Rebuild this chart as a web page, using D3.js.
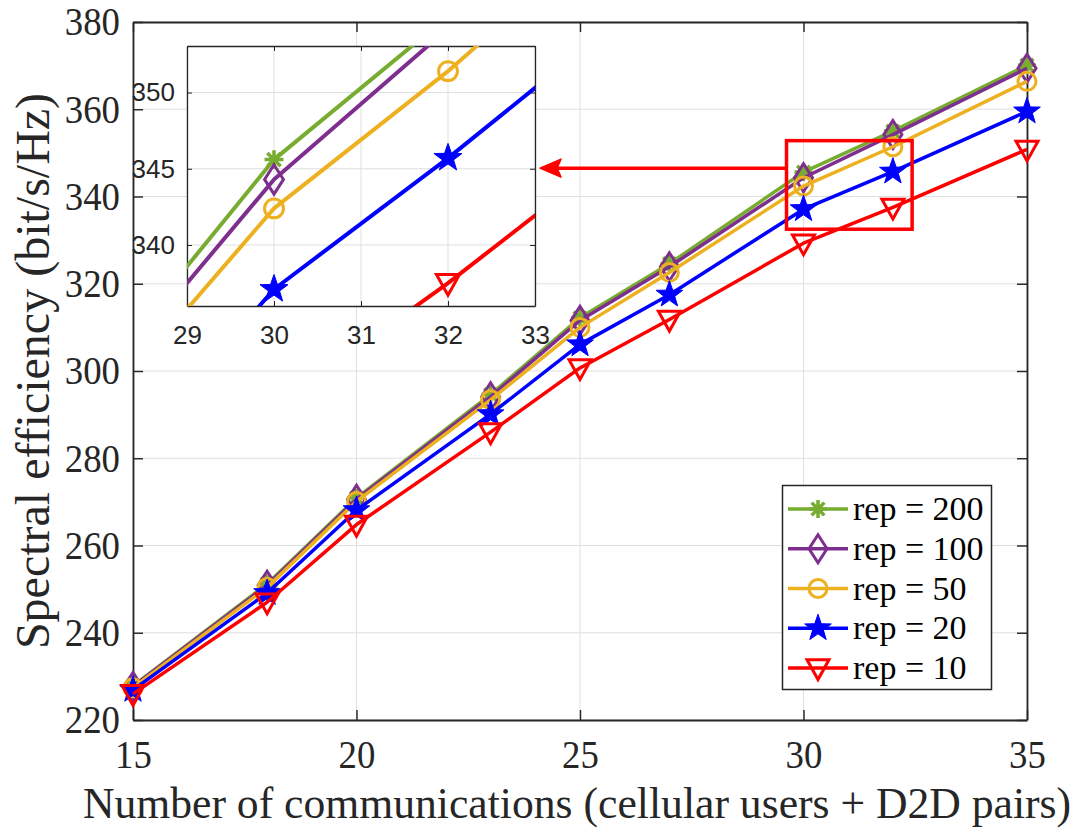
<!DOCTYPE html>
<html>
<head>
<meta charset="utf-8">
<script src="https://cdn.jsdelivr.net/npm/d3@7"></script>
<style>
	body { margin: 0; background: #fff; }
	#content { width: 1078px; height: 829px; }
</style>
</head>
<body>
<div id="content"></div>
<script>
var users = [15, 18, 20, 23, 25, 27, 30, 32, 35];
var rep200 = [227.8, 251.2, 270.9, 294.6, 312.2, 324.6, 345.6, 355.0, 370.1];
var rep100 = [227.7, 250.9, 270.6, 294.1, 311.6, 323.9, 344.3, 354.2, 369.4];
var rep50 = [227.4, 250.4, 270.1, 293.4, 310.0, 322.6, 342.4, 351.4, 366.4];
var rep20 = [226.9, 249.1, 268.1, 290.1, 306.1, 317.5, 337.1, 345.7, 359.5];
var rep10 = [226.0, 247.0, 264.8, 286.0, 300.7, 311.8, 329.3, 337.5, 350.8];
var seriesNames = ["rep = 200", "rep = 100", "rep = 50", "rep = 20", "rep = 10"];

var xTicks = [15, 20, 25, 30, 35];
var yTicks = [220, 240, 260, 280, 300, 320, 340, 360, 380];
var insetXTicks = [29, 30, 31, 32, 33];
var insetYTicks = [340, 345, 350];
var insetXRange = [29, 33];
var insetYRange = [336, 353.05];
// zoom box drawn on the main axes, in data units
var zoomBoxX = [29.62, 32.43];
var zoomBoxY = [332.5, 352.8];
var arrowY = 346.5;

var colors = ["#77AC30", "#7E2F8E", "#EDB120", "#0000FF", "#FF0000"];
var markers = ["asterisk", "diamond", "circle", "star", "triangle"];

var serif = "'Liberation Serif', 'Times New Roman', serif";

function main() {
	var svg = d3.select("#content").append("svg")
		.attr("width", 1078)
		.attr("height", 829);
	svg.append("rect").attr("width", 1078).attr("height", 829).attr("fill", "white");

	var series = [rep200, rep100, rep50, rep20, rep10].map(function (vals, i) {
		return {
			name: seriesNames[i], color: colors[i], marker: markers[i],
			points: vals.map(function (v, j) { return { x: users[j], y: v }; })
		};
	});

	var box = { left: 133, right: 1027, top: 22, bottom: 720 };
	var x = d3.scaleLinear().domain([15, 35]).range([box.left, box.right]);
	var y = d3.scaleLinear().domain([220, 380]).range([box.bottom, box.top]);

	drawAxes(svg, x, y, xTicks, yTicks, {
		font: serif, size: 40, squeeze: 0.92, tick: 10, stroke: 1.8, padX: 20, padY: 13
	});

	var g = svg.append("g");
	drawSeries(g, series, x, y, 3.5, 1);

	// labels
	svg.append("text")
		.attr("transform", "translate(" + ((box.left + box.right) / 2 - 3) + ",818) scale(0.97,1)")
		.attr("text-anchor", "middle")
		.style("font-family", serif)
		.style("font-size", "45px").attr("fill", "#262626")
		.text("Number of communications (cellular users + D2D pairs)");
	svg.append("text")
		.attr("transform", "translate(49," + ((box.top + box.bottom) / 2) + ") rotate(-90)")
		.attr("text-anchor", "middle")
		.style("font-family", serif)
		.style("font-size", "48px").attr("fill", "#262626")
		.text("Spectral efficiency (bit/s/Hz)");

	// zoom rectangle and arrow
	svg.append("rect")
		.attr("x", x(zoomBoxX[0])).attr("y", y(zoomBoxY[1]))
		.attr("width", x(zoomBoxX[1]) - x(zoomBoxX[0]))
		.attr("height", y(zoomBoxY[0]) - y(zoomBoxY[1]))
		.attr("fill", "none").attr("stroke", "#FF0000").attr("stroke-width", 3.5);

	var inset = { left: 187, right: 535, top: 46, bottom: 306 };
	var ay = y(arrowY);
	svg.append("line")
		.attr("x1", x(zoomBoxX[0])).attr("y1", ay)
		.attr("x2", inset.right + 22).attr("y2", ay)
		.attr("stroke", "#FF0000").attr("stroke-width", 3.5);
	svg.append("path")
		.attr("d", "M" + (inset.right + 5) + "," + ay + " L" + (inset.right + 26) + "," + (ay - 9) +
			" L" + (inset.right + 22) + "," + ay + " L" + (inset.right + 26) + "," + (ay + 9) + " Z")
		.attr("fill", "#FF0000").attr("stroke", "#FF0000").attr("stroke-width", 1.5)
		.attr("stroke-linejoin", "round");

	// inset axes
	var ix = d3.scaleLinear().domain(insetXRange).range([inset.left, inset.right]);
	var iy = d3.scaleLinear().domain(insetYRange).range([inset.bottom, inset.top]);
	svg.append("rect")
		.attr("x", inset.left).attr("y", inset.top)
		.attr("width", inset.right - inset.left).attr("height", inset.bottom - inset.top)
		.attr("fill", "white");
	drawAxes(svg, ix, iy, insetXTicks, insetYTicks, {
		font: "'Liberation Sans', Arial, Helvetica, sans-serif", size: 26, squeeze: 1,
		tick: 5, stroke: 1.3, padX: 20, padY: 12
	});
	svg.append("clipPath").attr("id", "insetClip")
		.append("rect")
		.attr("x", inset.left).attr("y", inset.top)
		.attr("width", inset.right - inset.left).attr("height", inset.bottom - inset.top);
	var ig = svg.append("g").attr("clip-path", "url(#insetClip)");
	drawSeries(ig, series, ix, iy, 4, 1.05);

	drawLegend(svg, series);
}

function drawAxes(svg, x, y, xt, yt, opt) {
	var x0 = x.range()[0], x1 = x.range()[1];
	var y0 = y.range()[0], y1 = y.range()[1];
	var fmt = d3.format("d");
	var grid = svg.append("g").attr("stroke", "#dfdfdf").attr("stroke-width", 1);
	xt.forEach(function (t) {
		grid.append("line").attr("x1", x(t)).attr("x2", x(t)).attr("y1", y0).attr("y2", y1);
	});
	yt.forEach(function (t) {
		grid.append("line").attr("x1", x0).attr("x2", x1).attr("y1", y(t)).attr("y2", y(t));
	});

	var xAxis = svg.append("g").attr("transform", "translate(0," + y0 + ")")
		.call(d3.axisBottom(x).tickValues(xt).tickFormat(fmt).tickSizeInner(-opt.tick).tickSizeOuter(0).tickPadding(opt.padX));
	var xAxisTop = svg.append("g").attr("transform", "translate(0," + y1 + ")")
		.call(d3.axisTop(x).tickValues(xt).tickSizeInner(-opt.tick).tickSizeOuter(0).tickFormat(""));
	var yAxis = svg.append("g").attr("transform", "translate(" + x0 + ",0)")
		.call(d3.axisLeft(y).tickValues(yt).tickFormat(fmt).tickSizeInner(-opt.tick).tickSizeOuter(0).tickPadding(opt.padY));
	var yAxisRight = svg.append("g").attr("transform", "translate(" + x1 + ",0)")
		.call(d3.axisRight(y).tickValues(yt).tickSizeInner(-opt.tick).tickSizeOuter(0).tickFormat(""));

	[xAxis, xAxisTop, yAxis, yAxisRight].forEach(function (a) {
		a.selectAll("path").attr("stroke", "#262626").attr("stroke-width", opt.stroke);
		a.selectAll("line").attr("stroke", "#262626").attr("stroke-width", opt.stroke * 0.8);
		a.selectAll("text")
			.style("font-family", opt.font)
			.style("font-size", opt.size + "px")
			.attr("fill", "#262626");
	});
	// narrow the serif digits a little, like the original figure
	xAxis.selectAll("text").attr("transform", "scale(" + opt.squeeze + ",1)");
	yAxis.selectAll("text").attr("transform", "scale(" + opt.squeeze + ",1)")
		.attr("x", -opt.padY / opt.squeeze);
}

function drawSeries(g, series, x, y, lw, scale) {
	var line = d3.line().x(function (d) { return x(d.x); }).y(function (d) { return y(d.y); });
	series.forEach(function (s) {
		g.append("path")
			.datum(s.points)
			.attr("d", line)
			.attr("fill", "none")
			.attr("stroke", s.color)
			.attr("stroke-width", lw)
			.attr("stroke-linejoin", "round");
		g.selectAll(null)
			.data(s.points)
			.enter()
			.append("path")
			.attr("transform", function (d) { return "translate(" + x(d.x) + "," + y(d.y) + ")"; })
			.call(styleMarker, s, scale);
	});
}

function markerPath(type, k) {
	if (type == "asterisk") {
		var r = 9 * k, q = r * 0.7071;
		return "M" + -r + ",0H" + r + "M0," + -r + "V" + r +
			"M" + -q + "," + -q + "L" + q + "," + q + "M" + -q + "," + q + "L" + q + "," + -q;
	}
	if (type == "diamond") {
		var w = 9 * k, h = 14 * k;
		return "M0," + -h + "L" + w + ",0L0," + h + "L" + -w + ",0Z";
	}
	if (type == "circle") {
		var c = 9 * k;
		return "M" + c + ",0A" + c + "," + c + " 0 1,1 " + -c + ",0A" + c + "," + c + " 0 1,1 " + c + ",0Z";
	}
	if (type == "star") {
		var pts = [];
		for (var i = 0; i < 10; i++) {
			var rr = (i % 2 == 0 ? 14 : 5.6) * k;
			var a = -Math.PI / 2 + i * Math.PI / 5;
			pts.push([rr * Math.cos(a), rr * Math.sin(a)]);
		}
		return "M" + pts.join("L") + "Z";
	}
	// downward triangle
	var t = 11 * k;
	return "M" + -t + "," + (-t * 0.75) + "L" + t + "," + (-t * 0.75) + "L0," + (t * 1.05) + "Z";
}

function styleMarker(sel, s, k) {
	sel.attr("d", markerPath(s.marker, k))
		.attr("fill", s.marker == "star" ? s.color : "none")
		.attr("stroke", s.color)
		.attr("stroke-width", s.marker == "asterisk" ? 3.5 : (s.marker == "star" ? 1 : 3))
		.attr("stroke-linejoin", "miter");
}

function drawLegend(svg, series) {
	var lg = svg.append("g");
	lg.append("rect")
		.attr("x", 782.5).attr("y", 485.5).attr("width", 209).attr("height", 204)
		.attr("fill", "white").attr("stroke", "#262626").attr("stroke-width", 1.5);
	var rowY = d3.scalePoint().domain(series.map(function (s) { return s.name; })).range([509, 668]);
	series.forEach(function (s) {
		var yy = rowY(s.name);
		lg.append("line")
			.attr("x1", 788).attr("x2", 848).attr("y1", yy).attr("y2", yy)
			.attr("stroke", s.color).attr("stroke-width", 3.5);
		lg.append("path")
			.attr("transform", "translate(818," + yy + ")")
			.call(styleMarker, s, 1);
		lg.append("text")
			.attr("x", 853).attr("y", yy + 11)
			.style("font-family", serif)
			.style("font-size", "34px")
			.attr("fill", "black")
			.text(s.name);
	});
}

(() => {
	main();
})()
</script>
</body>
</html>
